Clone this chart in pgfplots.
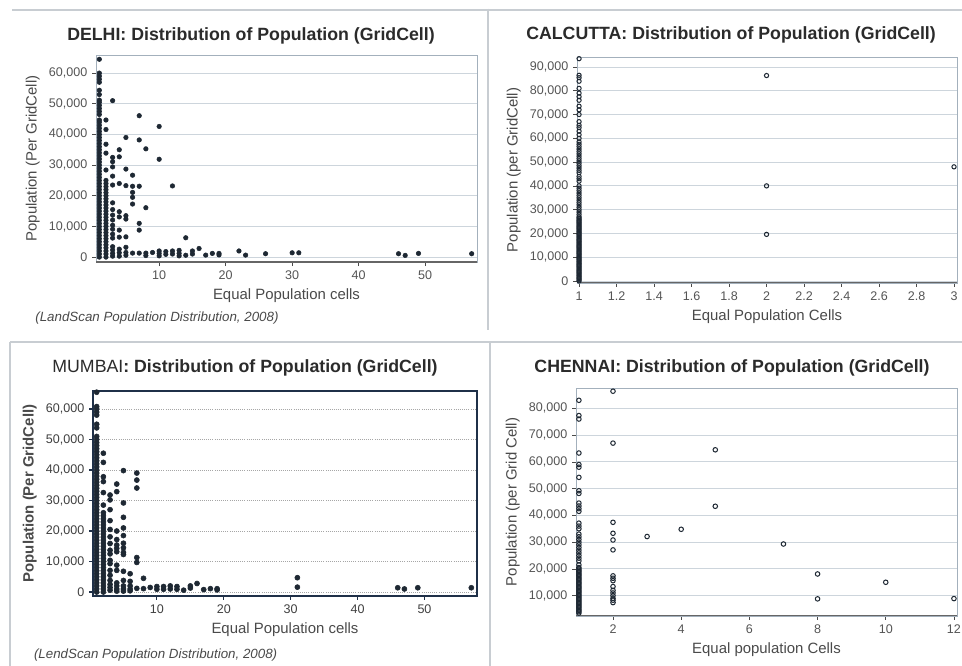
\documentclass[border=0pt]{standalone}
\usepackage{fontspec}
\setmainfont{Liberation Sans}
\usepackage{pgfplots}
\pgfplotsset{compat=1.18}

\definecolor{tickgray}{HTML}{555555}
\definecolor{labgray}{HTML}{4A4A4A}
\definecolor{titlegray}{HTML}{2B2B2B}
\definecolor{framegray}{HTML}{A3B0BC}
\definecolor{gridgray}{HTML}{CDD5DC}
\definecolor{dotcol}{HTML}{1E2833}
\definecolor{navy}{HTML}{1F3048}
\definecolor{sepgray}{HTML}{C8CDD2}

\pgfplotsset{
  panel/.style={
    scale only axis, anchor=north west,
    tick align=outside, tick pos=left, major tick length=3pt,
    ymajorgrids, grid style={gridgray, line width=0.6pt},
    axis line style={framegray, line width=0.6pt},
    tick style={labgray, line width=0.5pt},
    tick label style={font=\fontsize{9.4}{11}\selectfont, text=tickgray},
    label style={font=\fontsize{11.2}{13}\selectfont, text=labgray},
    /pgf/number format/assume math mode=true,
    /pgf/number format/1000 sep={,},
    scaled y ticks=false,
  },
  dots/.style={only marks, mark=*, mark size=1.7pt, mark options={draw=dotcol, fill=dotcol}},
  rings/.style={only marks, mark=o, mark size=1.6pt, mark options={draw=dotcol, line width=0.75pt}},
}

\newcommand\ttl[1]{\fontsize{13.3}{15}\selectfont\bfseries #1}

\begin{document}
\begin{tikzpicture}
\path[use as bounding box, fill=white] (0,0) rectangle (721.5pt,499.5pt);
% panel separators
\draw[sepgray, line width=0.8pt] (9pt,492pt) -- (721.5pt,492pt);
\draw[sepgray, line width=0.8pt] (366pt,493pt) -- (366pt,252pt);
\draw[sepgray, line width=0.8pt] (7.5pt,243pt) -- (721.5pt,243pt);
\draw[sepgray, line width=0.8pt] (367.5pt,243pt) -- (367.5pt,0pt);
\draw[sepgray, line width=0.8pt] (7.5pt,243pt) -- (7.5pt,0pt);

% ---------------- DELHI ----------------
\begin{axis}[panel, at={(72pt,458.25pt)}, width=285.75pt, height=155.25pt,
  xmin=0.5, xmax=57.8, ymin=-1600, ymax=65900,
  xtick={10,20,30,40,50}, ytick={0,10000,...,60000},
  xlabel={Equal Population cells}, ylabel={Population (Per GridCell)}]
\addplot[dots] coordinates {
 (1,0)(1,1000)(1,2000)(1,3000)(1,4000)(1,5000)(1,6000)(1,7000)(1,8000)(1,9000)
 (1,10000)(1,11000)(1,12000)(1,13000)(1,14000)(1,15000)(1,16000)(1,17000)(1,18000)(1,19000)
 (1,20000)(1,21000)(1,22000)(1,23000)(1,24000)(1,25000)(1,26000)(1,27000)(1,28000)(1,29000)
 (1,30000)(1,31000)(1,32000)(1,33000)(1,34000)(1,35000)(1,36000)(1,37000)(1,38000)(1,39000)
 (1,40000)(1,41000)(1,42000)(1,43000)(1,44000)(1,44700)(1,46500)(1,47500)(1,48500)(1,49500)
 (1,50500)(1,51200)(1,53000)(1,54400)(1,57000)(1,58000)(1,59000)(1,60000)(1,64500)
 (2,0)(2,1000)(2,2000)(2,3000)(2,4000)(2,5000)(2,6000)(2,7000)(2,8000)(2,9000)
 (2,10000)(2,11000)(2,12000)(2,13000)(2,14000)(2,15000)(2,16000)(2,17000)(2,18000)(2,19000)
 (2,20000)(2,21000)(2,22000)(2,23000)(2,24000)(2,25000)(2,28400)(2,33900)(2,36800)(2,41600)(2,44700)
 (3,300)(3,1200)(3,2300)(3,3400)(3,6200)(3,7500)(3,9100)(3,10400)(3,12100)(3,13700)
 (3,15500)(3,17700)(3,23500)(3,26400)(3,29400)(3,31100)(3,32500)(3,51000)
 (4,300)(4,1400)(4,2600)(4,6500)(4,8800)(4,13100)(4,14800)(4,24000)(4,32700)(4,35000)
 (5,600)(5,1500)(5,3200)(5,6600)(5,12400)(5,13500)(5,23300)(5,28700)(5,39000)
 (6,1300)(6,17300)(6,19500)(6,21100)(6,23100)(6,26700)
 (7,1300)(7,8800)(7,11000)(7,23100)(7,38200)(7,46100)
 (8,500)(8,1300)(8,16100)(8,35300)
 (9,1500)
 (10,400)(10,1200)(10,2000)(10,31900)(10,42600)
 (11,900)(11,1800)
 (12,1000)(12,2000)(12,23200)
 (13,400)(13,1200)(13,2200)
 (14,600)(14,6300)
 (15,1000)(15,2000)
 (16,2800)(17,650)(18,1200)(19,700)(19,1200)
 (22,2000)(23,650)(26,1100)(30,1400)(31,1400)
 (46,1100)(47,550)(49,1200)(57,1100)
};
\draw[gray!80!black, line width=0.8pt] (rel axis cs:0,0) -- (rel axis cs:1,0);
\end{axis}
\node[text=titlegray] at (188.25pt,472.5pt) {\ttl{DELHI: Distribution of Population (GridCell)}};
\node[anchor=west, text=labgray, font=\fontsize{10}{12}\selectfont\itshape] at (23pt,261pt)
  {(LandScan Population Distribution, 2008)};

% ---------------- CALCUTTA ----------------
\begin{axis}[panel, at={(432.75pt,456.75pt)}, width=285pt, height=169.5pt,
  xmin=0.989, xmax=3.016, ymin=-840, ymax=94200,
  xtick={1,1.2,1.4,1.6,1.8,2,2.2,2.4,2.6,2.8,3}, ytick={0,10000,...,90000},
  xticklabel style={/pgf/number format/.cd, fixed, precision=1},
  xlabel={Equal Population Cells}, ylabel={Population (per GridCell)}]
\addplot[rings] coordinates {
 (1,0)(1,500)(1,1000)(1,1500)(1,2000)(1,2500)(1,3000)(1,3500)(1,4000)(1,4500)(1,5000)
 (1,5500)(1,6000)(1,6500)(1,7000)(1,7500)(1,8000)(1,8500)(1,9000)(1,9500)(1,10000)
 (1,10500)(1,11000)(1,11500)(1,12000)(1,12500)(1,13000)(1,13500)(1,14000)(1,14500)(1,15000)
 (1,15500)(1,16000)(1,16500)(1,17000)(1,17500)(1,18000)(1,18500)(1,19000)(1,19500)(1,20000)
 (1,20500)(1,21000)(1,21500)(1,22000)(1,22500)(1,23000)(1,23500)(1,24000)(1,24500)(1,25000)
 (1,25500)(1,26000)(1,26500)(1,27000)(1,28000)(1,29000)
 (1,30000)(1,31000)(1,32000)(1,33000)(1,34000)(1,35000)(1,36000)(1,37000)(1,38000)(1,39000)
 (1,40000)(1,42000)(1,43000)(1,44000)(1,45500)(1,46500)(1,47500)(1,48500)(1,49500)
 (1,50500)(1,51500)(1,52500)(1,53500)(1,54500)(1,55500)(1,56500)(1,57500)(1,58500)
 (1,60000)(1,61500)(1,63000)(1,64500)(1,65500)(1,67000)(1,70000)(1,72000)(1,73500)
 (1,76000)(1,77500)(1,79000)(1,81000)(1,84000)(1,85500)(1,86500)(1,93500)
 (2,86400)(2,40000)(2,19600)
 (3,48000)
};
\draw[gray!80!black, line width=0.8pt] (rel axis cs:0,0) -- (rel axis cs:1,0);
\end{axis}
\node[text=titlegray] at (548.25pt,473.25pt) {\ttl{CALCUTTA: Distribution of Population (GridCell)}};

% ---------------- MUMBAI ----------------
\begin{axis}[panel, at={(69.75pt,206.25pt)}, width=288pt, height=153.75pt,
  xmin=0.45, xmax=57.85, ymin=-1300, ymax=65900,
  xtick={10,20,30,40,50}, ytick={0,10000,...,60000},
  axis line style={navy, line width=1.2pt},
  grid style={gray!70, densely dotted, line width=0.6pt},
  tick style={navy, line width=0.8pt},
  tick label style={text=black!75},
  dots/.append style={mark size=1.9pt},
  xlabel={Equal Population cells}, ylabel={\bfseries Population (Per GridCell)}]
\addplot[dots] coordinates {
 (1,0)(1,1000)(1,2000)(1,3000)(1,4000)(1,5000)(1,6000)(1,7000)(1,8000)(1,9000)
 (1,10000)(1,11000)(1,12000)(1,13000)(1,14000)(1,15000)(1,16000)(1,17000)(1,18000)(1,19000)
 (1,20000)(1,21000)(1,22000)(1,23000)(1,24000)(1,25000)(1,26000)(1,27000)(1,28000)(1,29000)
 (1,30000)(1,31000)(1,32000)(1,33000)(1,34000)(1,35000)(1,36000)(1,37000)(1,38000)(1,39000)
 (1,40000)(1,41000)(1,42000)(1,43000)(1,44000)(1,45000)(1,46000)(1,47000)(1,48000)(1,49000)
 (1,50000)(1,51000)(1,53800)(1,55000)(1,58000)(1,59000)(1,60000)(1,60800)(1,65500)
 (2,0)(2,1000)(2,2000)(2,3000)(2,4000)(2,5000)(2,6000)(2,7000)(2,8000)(2,9000)
 (2,10000)(2,11000)(2,12000)(2,13000)(2,14000)(2,15000)(2,16000)(2,17000)(2,18000)(2,19000)
 (2,20000)(2,21000)(2,22000)(2,23000)(2,24000)(2,25000)(2,26000)(2,28500)(2,32600)
 (2,36200)(2,37800)(2,42500)(2,45500)
 (3,600)(3,1500)(3,2500)(3,3800)(3,5500)(3,7100)(3,9300)(3,10400)(3,12500)(3,13700)
 (3,15900)(3,18100)(3,20500)(3,23400)(3,27000)(3,30200)(3,31800)
 (4,300)(4,1000)(4,2000)(4,3000)(4,7100)(4,8800)(4,13200)(4,14300)(4,15400)(4,17200)
 (4,20000)(4,32900)(4,35400)
 (5,300)(5,1000)(5,2000)(5,3800)(5,6800)(5,12300)(5,13000)(5,14500)(5,16000)(5,18500)
 (5,21000)(5,24500)(5,29200)(5,39800)
 (6,400)(6,1000)(6,2000)(6,3500)(6,6000)
 (7,1200)(7,9700)(7,11300)(7,34100)(7,36700)(7,39000)
 (8,1100)(8,4500)
 (9,1500)
 (10,900)(10,1800)(11,900)(11,1800)(12,1000)(12,2000)(13,900)(13,1800)
 (14,600)(15,1300)(15,2000)(16,2800)(17,800)(18,1100)(19,700)(19,1100)
 (31,1600)(31,4700)
 (46,1400)(47,1000)(49,1400)(57,1400)
};
\end{axis}
\node[text=titlegray] at (183.75pt,223.5pt)
  {\fontsize{13.3}{15}\selectfont MUMBAI\bfseries: Distribution of Population (GridCell)};
\node[anchor=west, text=labgray, font=\fontsize{10}{12}\selectfont\itshape] at (22pt,8.25pt)
  {(LendScan Population Distribution, 2008)};

% ---------------- CHENNAI ----------------
\begin{axis}[panel, at={(432pt,208.5pt)}, width=285.75pt, height=171pt,
  xmin=0.915, xmax=12.09, ymin=2400, ymax=87600,
  xtick={2,4,6,8,10,12}, ytick={10000,20000,...,80000},
  rings/.append style={mark size=1.7pt},
  xlabel={Equal population Cells}, ylabel={Population (per Grid Cell)}]
\addplot[rings] coordinates {
 (1,3500)(1,4000)(1,4500)(1,5000)(1,5500)(1,6000)(1,6500)(1,7000)(1,7500)(1,8000)(1,8500)
 (1,9000)(1,9500)(1,10000)(1,10500)(1,11000)(1,11500)(1,12000)(1,12500)(1,13000)(1,13500)
 (1,14000)(1,14500)(1,15000)(1,15500)(1,16000)(1,16500)(1,17000)(1,17500)(1,18000)(1,18500)
 (1,19000)(1,19500)(1,20000)(1,20500)(1,21500)
 (1,23000)(1,24000)(1,25000)(1,26000)(1,27000)(1,28000)(1,29000)(1,30000)(1,31000)(1,32000)
 (1,33000)(1,35000)(1,36000)(1,37100)(1,41500)(1,42500)(1,43500)(1,44600)(1,48200)(1,49200)
 (1,54200)(1,58000)(1,59000)(1,63300)(1,76000)(1,77300)(1,83000)
 (2,7400)(2,8300)(2,9000)(2,10000)(2,11000)(2,12000)(2,13400)(2,15600)(2,16500)(2,17400)
 (2,27100)(2,30800)(2,33300)(2,37400)(2,67000)(2,86400)
 (3,32100)(4,34800)(5,43400)(5,64500)(7,29300)(8,8800)(8,18100)(10,15000)(12,8900)
};
\draw[gray!80!black, line width=0.8pt] (rel axis cs:0,0) -- (rel axis cs:1,0);
\end{axis}
\node[text=titlegray] at (549pt,223.5pt) {\ttl{CHENNAI: Distribution of Population (GridCell)}};
\end{tikzpicture}
\end{document}
